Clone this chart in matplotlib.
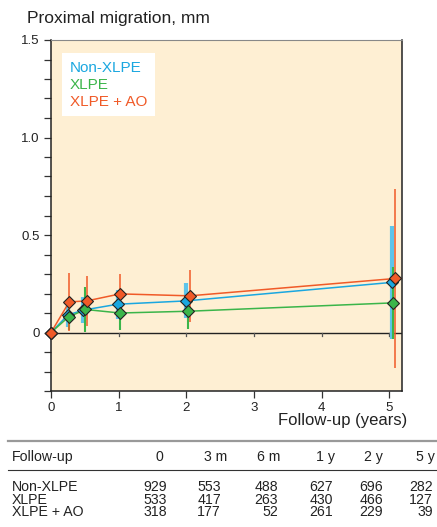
import numpy as np
import matplotlib
matplotlib.use("Agg")
import matplotlib.pyplot as plt
from matplotlib.lines import Line2D
from matplotlib.ticker import MultipleLocator, FixedLocator

plt.rcParams['font.family'] = ['Liberation Sans', 'DejaVu Sans']

# Dados
grupos = ['Non-XLPE', 'XLPE', 'XLPE + AO']
cores = ['#1AA7E0', '#3BB54A', '#F05A28']
cores_barra = ['#5EC4EA', '#3BB54A', '#F05A28']

x_anos = [
    [0, 0.25, 0.48, 0.985, 1.995, 5.04],
    [0, 0.26, 0.51, 1.02, 2.03, 5.06],
    [0, 0.27, 0.53, 1.02, 2.05, 5.09],
]
media = [
    [0, 0.090, 0.115, 0.145, 0.162, 0.257],
    [0, 0.080, 0.118, 0.100, 0.109, 0.152],
    [0, 0.157, 0.162, 0.198, 0.188, 0.277],
]
desvio = [
    [0, 0.060, 0.065, 0.075, 0.090, 0.290],
    [0, 0.068, 0.115, 0.085, 0.090, 0.185],
    [0, 0.150, 0.130, 0.100, 0.135, 0.460],
]

# Tabela de pacientes
colunas = ['0', '3 m', '6 m', '1 y', '2 y', '5 y']
n_pacientes = [
    [929, 553, 488, 627, 696, 282],
    [533, 417, 263, 430, 466, 127],
    [318, 177, 52, 261, 229, 39],
]

W, H = 437, 527
fig = plt.figure(figsize=(W / 100, H / 100), dpi=100)
ax = fig.add_axes([51 / W, 1 - 391 / H, 351 / W, 351 / H])
ax.set_facecolor('#FEEFD3')

espessura = [3.0, 1.5, 1.1]
for i in range(3):
    ax.errorbar(x_anos[i], media[i], yerr=desvio[i], fmt='none',
                ecolor=cores_barra[i], elinewidth=espessura[i], capsize=0, zorder=2 + i)
for i in range(3):
    ax.plot(x_anos[i], media[i], color=cores[i], lw=1.1, zorder=5 + i)
for i in range(3):
    ax.plot(x_anos[i], media[i], ls='none', marker='D', ms=6.5, mfc=cores[i],
            mec='#222222', mew=0.8, zorder=8 + i, clip_on=False)

ax.axhline(0, color='#222222', lw=1.0, zorder=1)
ax.set_xlim(0, 5.19)
ax.set_ylim(-0.3, 1.5)

# marcas pequenas sobre a linha do zero
for t in range(1, 6):
    ax.plot([t, t], [0, -0.018], color='#555555', lw=0.9, zorder=1)

ax.xaxis.set_major_locator(FixedLocator([0, 1, 2, 3, 4, 5]))
ax.yaxis.set_major_locator(FixedLocator([0, 0.5, 1.0, 1.5]))
ax.yaxis.set_minor_locator(MultipleLocator(0.1))
ax.set_yticklabels(['0', '0.5', '1.0', '1.5'])
ax.tick_params(axis='both', which='both', direction='out', length=5, width=0.9,
               color='#333333', labelsize=9.5, labelcolor='#222222', pad=3)

for lado in ['left', 'bottom', 'right']:
    ax.spines[lado].set_color('#222222')
    ax.spines[lado].set_linewidth(1.1)
ax.spines['top'].set_color('#888888')
ax.spines['top'].set_linewidth(0.8)

fig.text(407 / W, 1 - 421 / H, 'Follow-up (years)', ha='right', va='center',
         fontsize=12, color='#222222')
fig.text(27 / W, 1 - 18 / H, 'Proximal migration, mm', ha='left', va='center',
         fontsize=12.5, color='#222222')

handles = [Line2D([], [], color=c, lw=0) for c in cores]
leg = ax.legend(handles, grupos, loc='upper left', bbox_to_anchor=(0.031, 0.963),
                handlelength=0, handletextpad=0, frameon=True, fancybox=False,
                borderaxespad=0, borderpad=0.5, labelspacing=0.2,
                prop={'size': 11}, labelcolor=cores)
leg.get_frame().set_facecolor('white')
leg.get_frame().set_edgecolor('none')
leg.get_frame().set_alpha(1)

# tabela
fig.add_artist(Line2D([8 / W, 1], [1 - 441 / H] * 2, color='#999999', lw=1.6))
fig.add_artist(Line2D([8 / W, 1], [1 - 470 / H] * 2, color='#333333', lw=0.8))
x_cab = [163, 227, 280, 335, 383, 435]
x_num = [167, 221, 278, 333, 383, 433]
fs = 10.2
esp = 0.86
fig.text(12 / W, 1 - 457 / H, 'Follow-up', ha='left', va='center', fontsize=fs, color='#222222')
for j, c in enumerate(colunas):
    fig.text(x_cab[j] / W, 1 - 457 / H, c, ha='right', va='center', fontsize=fs, color='#222222')
# cada coluna da tabela como um bloco de tres linhas
fig.text(12 / W, 1 - 499.5 / H, '\n'.join(grupos), ha='left', va='center',
         multialignment='left', linespacing=esp, fontsize=fs, color='#222222')
for j in range(len(colunas)):
    bloco = '\n'.join(str(n_pacientes[i][j]) for i in range(3))
    fig.text(x_num[j] / W, 1 - 499.5 / H, bloco, ha='right', va='center',
             multialignment='right', linespacing=esp, fontsize=fs, color='#222222')

fig.savefig('out.png', dpi=100)
